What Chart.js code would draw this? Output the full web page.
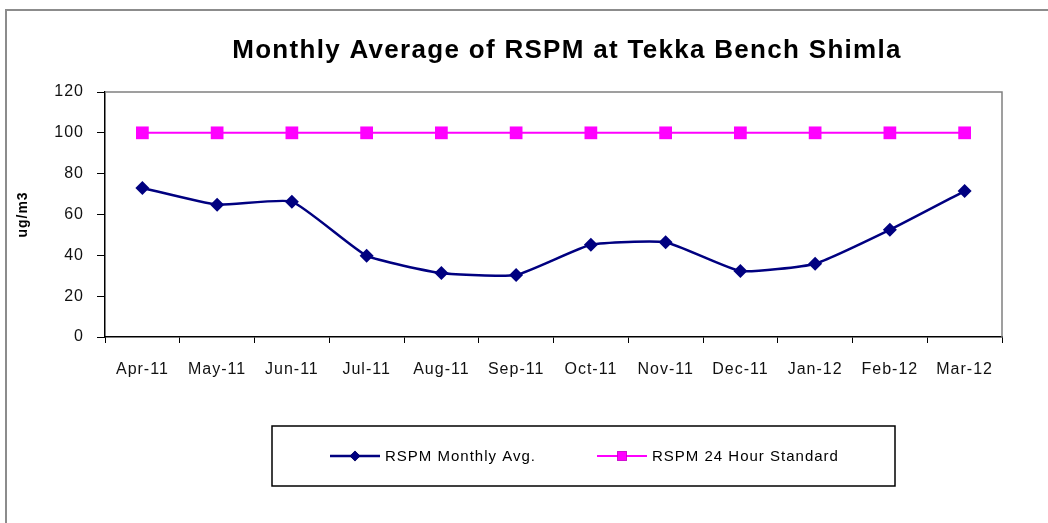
<!DOCTYPE html>
<html>
<head>
<meta charset="utf-8">
<script src="https://cdn.jsdelivr.net/npm/chart.js@4.4.1/dist/chart.umd.min.js"></script>
<style>
  html, body { margin: 0; padding: 0; background: #fff; }
  #wrap { width: 1048px; height: 523px; }
</style>
</head>
<body>
<div id="wrap"><canvas id="rspmChart" width="1048" height="523"></canvas></div>
<script>
const months = ['Apr-11', 'May-11', 'Jun-11', 'Jul-11', 'Aug-11', 'Sep-11',
                'Oct-11', 'Nov-11', 'Dec-11', 'Jan-12', 'Feb-12', 'Mar-12'];
const monthlyAvg = [73, 64.8, 66.3, 39.8, 31.3, 30.4, 45.2, 46.4, 32.3, 35.9, 52.5, 71.5];
const standard24h = [100, 100, 100, 100, 100, 100, 100, 100, 100, 100, 100, 100];
const yTicks = [0, 20, 40, 60, 80, 100, 120];

const FONT = '"Liberation Sans", Arial, sans-serif';

// frame, title, plot border and the boxed legend (Excel style)
const excelLook = {
  id: 'excelLook',
  beforeDraw(chart) {
    const ctx = chart.ctx;
    ctx.save();
    ctx.fillStyle = '#fff';
    ctx.fillRect(0, 0, chart.width, chart.height);
    ctx.strokeStyle = '#8c8c8c';
    ctx.lineWidth = 2;
    ctx.strokeRect(6, 10, chart.width + 50, chart.height + 50);
    ctx.restore();
    // excel spreads its text a little wider
    ctx.letterSpacing = '1px';
  },
  beforeDatasetsDraw(chart) {
    const { ctx, chartArea: a } = chart;
    ctx.save();
    ctx.strokeStyle = '#808080';
    ctx.lineWidth = 1.5;
    ctx.beginPath();
    ctx.moveTo(a.left, a.top);
    ctx.lineTo(a.right, a.top);
    ctx.lineTo(a.right, a.bottom);
    ctx.stroke();
    ctx.restore();
  },
  afterDraw(chart) {
    const ctx = chart.ctx;
    ctx.save();
    // title
    ctx.fillStyle = '#000';
    ctx.font = 'bold 26px ' + FONT;
    ctx.letterSpacing = '1.3px';
    ctx.textAlign = 'center';
    ctx.textBaseline = 'alphabetic';
    ctx.fillText('Monthly Average of RSPM at Tekka Bench Shimla', 567, 58);

    // legend box
    ctx.strokeStyle = '#000';
    ctx.lineWidth = 1.5;
    ctx.strokeRect(272, 426, 623, 60);

    const items = [
      { ds: chart.data.datasets[0], x: 330 },
      { ds: chart.data.datasets[1], x: 597 }
    ];
    const y = 456;
    ctx.font = '15px ' + FONT;
    ctx.letterSpacing = '1px';
    ctx.textAlign = 'left';
    ctx.textBaseline = 'middle';
    items.forEach(it => {
      ctx.strokeStyle = it.ds.borderColor;
      ctx.lineWidth = it.ds.borderWidth;
      ctx.beginPath();
      ctx.moveTo(it.x, y);
      ctx.lineTo(it.x + 50, y);
      ctx.stroke();
      Chart.helpers.drawPoint(ctx, {
        pointStyle: it.ds.pointStyle,
        radius: it.ds.pointRadius * 0.75,
        borderWidth: 0
      }, it.x + 25, y);
      ctx.fillStyle = it.ds.pointBackgroundColor;
      ctx.fill();
      ctx.fillStyle = '#000';
      ctx.fillText(it.ds.label, it.x + 55, y + 1);
    });
    ctx.restore();
  }
};

new Chart(document.getElementById('rspmChart').getContext('2d'), {
  type: 'line',
  data: {
    labels: months,
    datasets: [{
      label: 'RSPM Monthly Avg.',
      data: monthlyAvg,
      borderColor: '#000080',
      backgroundColor: '#000080',
      pointBackgroundColor: '#000080',
      pointBorderColor: '#000080',
      pointStyle: 'rectRot',
      pointRadius: 7,
      pointBorderWidth: 0,
      borderWidth: 2.5,
      tension: 0.15
    }, {
      label: 'RSPM 24 Hour Standard',
      data: standard24h,
      borderColor: '#ff00ff',
      backgroundColor: '#ff00ff',
      pointBackgroundColor: '#ff00ff',
      pointBorderColor: '#ff00ff',
      pointStyle: 'rect',
      pointRadius: 9,
      pointBorderWidth: 0,
      borderWidth: 2
    }]
  },
  options: {
    responsive: false,
    animation: false,
    events: [],
    layout: { padding: { top: 92, right: 46, left: 0, bottom: 126 } },
    plugins: {
      legend: { display: false },
      title: { display: false },
      tooltip: { enabled: false }
    },
    scales: {
      x: {
        offset: true,
        afterFit: s => { s.height = 60; },
        grid: { offset: true, drawOnChartArea: false, tickLength: 6, color: '#000', lineWidth: 1 },
        border: { color: '#000', width: 1.5 },
        ticks: { color: '#111', padding: 17, maxRotation: 0, autoSkip: false, font: { family: FONT, size: 16 } }
      },
      y: {
        min: 0,
        max: 120,
        afterFit: s => { s.width = 105; },
        afterBuildTicks: s => { s.ticks = yTicks.map(v => ({ value: v })); },
        grid: { drawOnChartArea: false, tickLength: 8, color: '#000', lineWidth: 1 },
        border: { color: '#000', width: 1.5 },
        ticks: { color: '#111', padding: 13, font: { family: FONT, size: 16 } },
        title: {
          display: true,
          text: 'ug/m3',
          color: '#000',
          padding: { top: 15, bottom: 0 },
          font: { family: FONT, size: 14, weight: 'bold' }
        }
      }
    }
  },
  plugins: [excelLook]
});
</script>
</body>
</html>
